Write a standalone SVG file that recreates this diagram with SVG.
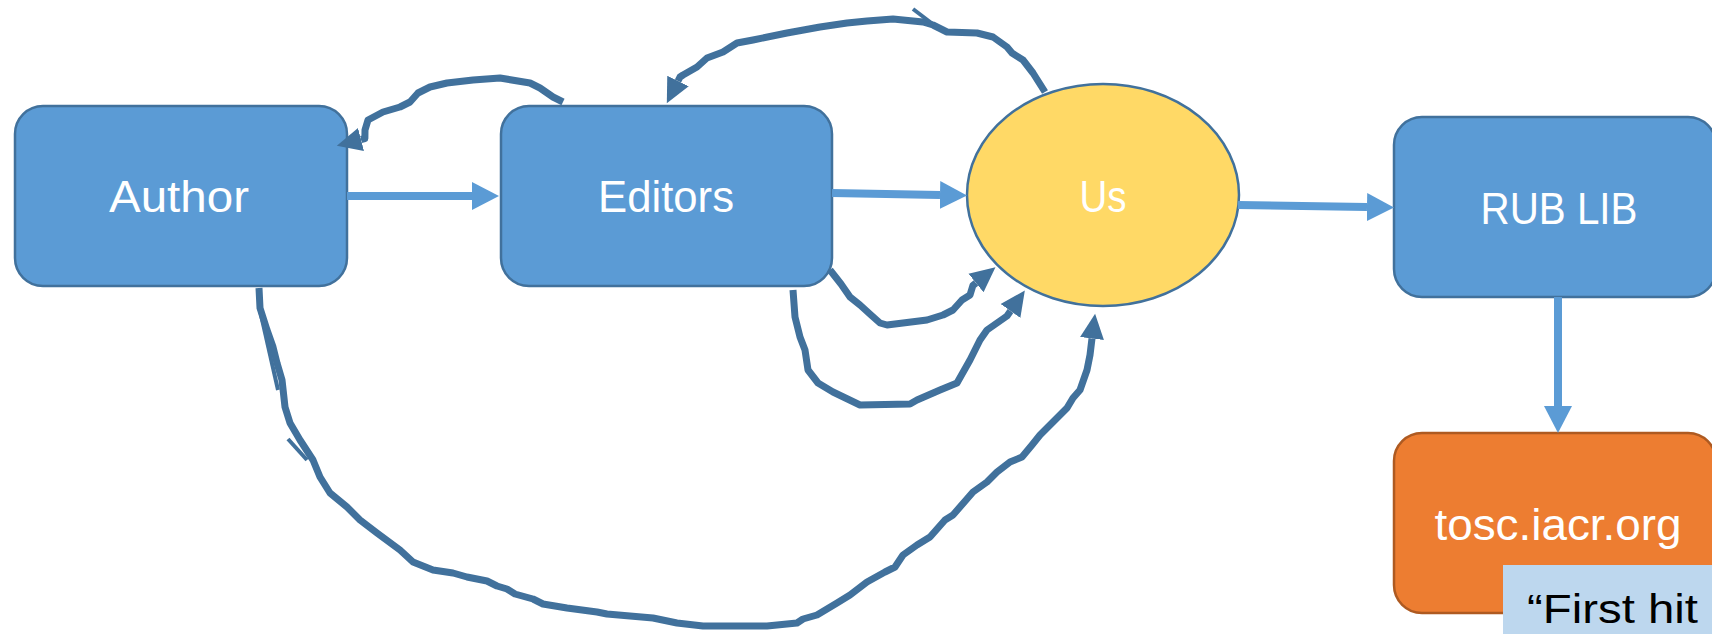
<svg xmlns="http://www.w3.org/2000/svg" width="1712" height="634" viewBox="0 0 1712 634">
<style>
.box{fill:#5B9BD5;stroke:#41719C;stroke-width:2.5}
.lbl{font-family:"Liberation Sans",Arial,sans-serif;font-size:45px;fill:#FFFFFF;text-anchor:middle}
.lt{fill:none;stroke:#5B9BD5;stroke-width:8}
.dk{fill:none;stroke:#41719C;stroke-width:7;stroke-linejoin:round}
.thin{fill:none;stroke:#41719C;stroke-width:4}
</style>
<defs>
<marker id="ah-lt" viewBox="0 -15 28 30" markerWidth="28" markerHeight="30" refX="0" refY="0" orient="auto" markerUnits="userSpaceOnUse"><path d="M0,-14 L27,0 L0,14 z" fill="#5B9BD5"/></marker>
<marker id="ah-dk" viewBox="0 -13 26 26" markerWidth="26" markerHeight="26" refX="0" refY="0" orient="auto" markerUnits="userSpaceOnUse"><path d="M0,-12 L25,0 L0,12 z" fill="#41719C"/></marker>
</defs>
<rect width="1712" height="634" fill="#FFFFFF"/>
<g id="author"><rect class="box" x="15" y="106" width="332" height="180" rx="28"/><text class="lbl" x="179" y="212" textLength="140" lengthAdjust="spacingAndGlyphs">Author</text></g>
<g id="editors"><rect class="box" x="501" y="106" width="331" height="180" rx="28"/><text class="lbl" x="666" y="212" textLength="136" lengthAdjust="spacingAndGlyphs">Editors</text></g>
<g id="us"><ellipse cx="1103" cy="195" rx="136" ry="111" fill="#FFD966" stroke="#41719C" stroke-width="2.5"/><text class="lbl" x="1103" y="212" textLength="47" lengthAdjust="spacingAndGlyphs">Us</text></g>
<g id="rublib"><rect class="box" x="1394" y="117" width="322" height="180" rx="28"/><text class="lbl" x="1559" y="224" textLength="157" lengthAdjust="spacingAndGlyphs">RUB LIB</text></g>
<g id="tosc"><rect x="1394" y="433" width="322" height="180" rx="28" fill="#ED7D31" stroke="#AE5A21" stroke-width="2.5"/><text class="lbl" x="1558" y="540" textLength="247" lengthAdjust="spacingAndGlyphs">tosc.iacr.org</text></g>
<g id="firsthit"><rect x="1503" y="565" width="215" height="75" fill="#BDD7EE"/><text x="1527" y="623" font-family="Liberation Sans, Arial, sans-serif" font-size="41" fill="#000000" textLength="171" lengthAdjust="spacingAndGlyphs">“First hit</text></g>
<g id="connectors">
<path class="lt" d="M347,196 L472,196" marker-end="url(#ah-lt)"/>
<path class="lt" d="M832,193 L940,195" marker-end="url(#ah-lt)"/>
<path class="lt" d="M1238,205 L1367,207" marker-end="url(#ah-lt)"/>
<path class="lt" d="M1558,297 L1558,406" marker-end="url(#ah-lt)"/>
<path class="dk" d="M563,102 L553,97 L540,88 L530,83 L500,78 L473,80 L447,83 L430,87 L418,93 L410,102 L400,107 L383,112 L368,120 L365,130 L364.9,138.5 L361,139.5" marker-end="url(#ah-dk)"/>
<path class="dk" d="M1045,92 L1033,73 L1023,60 L1012,53 L1007,47 L993,37 L977,33 L947,32 L933,25 L923,22 L893,19 L867,21 L847,23 L820,27 L787,33 L753,40 L737,43 L723,52 L707,58 L697,67 L683,75 L680,77 L678,81" marker-end="url(#ah-dk)"/>
<path class="thin" d="M913,9 L934,25"/>
<path class="dk" d="M830,270 L841,284 L850,297 L860,305 L871,315 L880,323 L887,325 L927,320 L943,315 L953,310 L962,300 L970,295 L972.9,285.5 L976,283" marker-end="url(#ah-dk)"/>
<path class="dk" d="M793,290 L795,317 L800,337 L805,350 L808,370 L818,383 L833,392 L860,405 L910,404 L917,400 L940,390 L957,383 L970,360 L980,340 L987,330 L997,323 L1007,316 L1010.5,311" marker-end="url(#ah-dk)"/>
<path class="dk" d="M259,288 L260,308 L267,330 L273,347 L277,363 L282,380 L285,407 L290,423 L300,440 L313,460 L320,477 L330,493 L347,507 L360,520 L377,533 L400,550 L413,562 L433,570 L453,573 L467,577 L487,581 L497,586 L507,589 L515,594 L533,599 L543,604 L567,608 L597,612 L607,614 L653,618 L677,623 L703,626 L767,626 L797,623 L803,619 L817,615 L837,603 L850,595 L867,582 L885,572 L895,567 L903,555 L917,545 L930,537 L945,520 L953,515 L973,492 L987,482 L997,472 L1010,462 L1022,457 L1032,445 L1040,435 L1053,422 L1067,408 L1073,398 L1080,390 L1087,370 L1090,355 L1091.5,342.5 L1092,338.5" marker-end="url(#ah-dk)"/>
<path class="thin" d="M259,306 L278,390"/>
<path class="thin" d="M288,439 L307,460"/>
</g>
</svg>
